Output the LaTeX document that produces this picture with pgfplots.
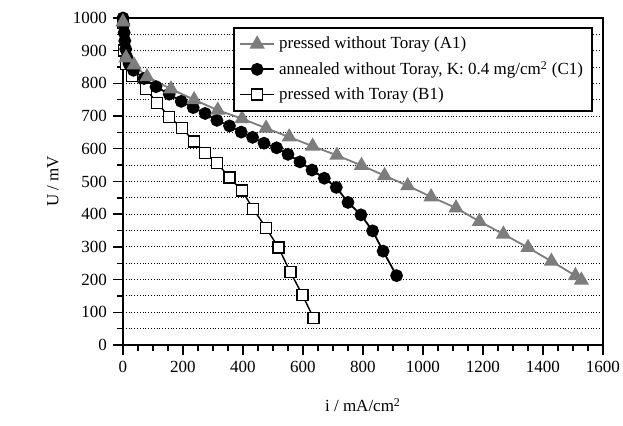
\documentclass[border=0pt]{standalone}
\usepackage{fontspec}
\setmainfont{Liberation Serif}
\usepackage{pgfplots}
\pgfplotsset{compat=1.18}
\definecolor{agray}{RGB}{125,125,125}
\begin{document}
\fontsize{8.5}{10}\selectfont
\begin{tikzpicture}
\useasboundingbox (-61.5pt,-40.5pt) rectangle (250pt,172.5pt);
\begin{axis}[
  scale only axis, width=240pt, height=163.5pt,
  xmin=0, xmax=1600, ymin=0, ymax=1000,
  xtick={0,200,...,1600}, ytick={0,100,...,1000},
  minor x tick num=3, minor y tick num=1,
  tick align=outside, xtick pos=bottom, ytick pos=left,
  major tick length=5pt, minor tick length=3pt,
  every tick/.style={black, line width=0.7pt},
  axis line style={line width=0.8pt},
  ymajorgrids, yminorgrids,
  major grid style={densely dotted, black, line width=0.5pt},
  minor grid style={densely dotted, black, line width=0.5pt},
  /pgf/number format/assume math mode=true,
  /pgf/number format/1000 sep={},
  tick label style={font=\fontsize{8.5}{10}\selectfont},
  xlabel={i / mA/cm\textsuperscript{2}},
  ylabel={U / mV},
  label style={font=\fontsize{8.5}{10}\selectfont},
  xlabel style={at={(axis description cs:0.5,0)}, anchor=center, yshift=-30pt},
  ylabel style={at={(axis description cs:0,0.5)}, anchor=center, yshift=35pt},
  legend style={at={(0.979,0.972)}, anchor=north east, draw=black, line width=0.8pt,
    font=\fontsize{8.5}{10}\selectfont, row sep=1pt, inner sep=2.5pt},
  legend cell align=left,
]
\addlegendimage{agray, line width=0.9pt, mark=triangle*, mark size=3.5pt, mark options={fill=agray, draw=agray}}
\addlegendentry{pressed without Toray (A1)}
\addlegendimage{black, line width=0.9pt, mark=*, mark size=2.75pt}
\addlegendentry{annealed without Toray, K: 0.4 mg/cm\textsuperscript{2} (C1)}
\addlegendimage{black, line width=0.7pt, mark=square*, mark size=2.75pt, mark options={fill=white, draw=black}}
\addlegendentry{pressed with Toray (B1)}

\addplot[forget plot, black, line width=0.7pt, mark=square*, mark size=2.75pt, mark options={fill=white, draw=black}]
coordinates {(0,985)(3,900)(10,860)(30,822)(77,782)(114,740)(154,698)(197,663)(237,622)(274,588)(314,556)(355,512)(397,472)(434,416)(477,358)(518,298)(558,223)(598,153)(635,83)};

\addplot[forget plot, black, line width=0.9pt, mark=*, mark size=2.75pt]
coordinates {(0,1000)(2,980)(4,955)(6,930)(9,905)(13,880)(20,860)(35,840)(70,815)(110,790)(154,767)(194,745)(234,726)(274,708)(313,687)(355,670)(394,651)(432,635)(470,617)(512,603)(550,583)(590,560)(630,535)(671,510)(711,482)(750,436)(793,398)(832,349)(867,287)(912,212)};

\addplot[forget plot, agray, line width=0.9pt, mark=triangle*, mark size=3.5pt, mark options={fill=agray, draw=agray}]
coordinates {(0,988)(10,878)(37,856)(80,820)(160,783)(237,750)(316,718)(397,692)(477,663)(554,636)(632,608)(713,580)(795,549)(872,518)(949,487)(1027,453)(1110,419)(1188,378)(1268,339)(1350,298)(1428,256)(1508,212)(1528,198)};
\end{axis}
\end{tikzpicture}
\end{document}
